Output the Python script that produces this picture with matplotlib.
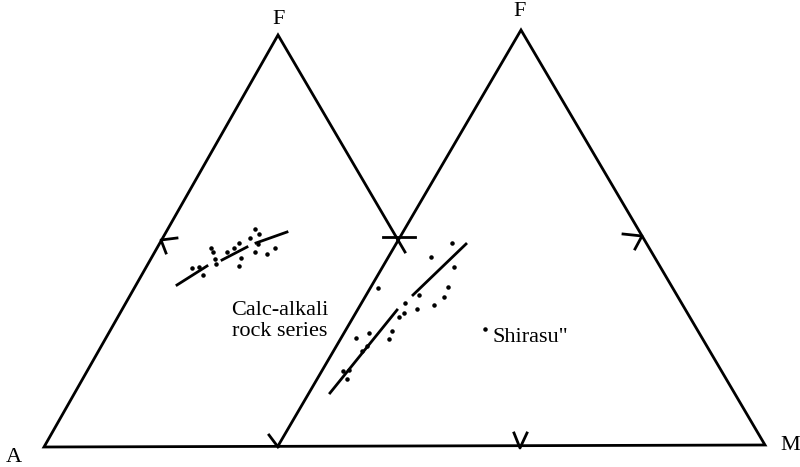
import matplotlib
matplotlib.use("Agg")
import matplotlib.pyplot as plt

plt.rcParams['font.family'] = ['Liberation Serif', 'DejaVu Serif']

# frame of the two triangles (image pixel coords)
left_tri_x = [405, 278, 44, 765, 521, 278]
left_tri_y = [252, 35, 447, 445, 30, 446]

# small tick / arrow marks
marks = [
    ([177, 161, 166], [238, 240, 253]),
    ([623, 642, 635], [234, 236, 249]),
    ([514, 520, 527], [433, 448, 433]),
    ([269, 278], [435, 447]),
    ([383, 415], [237, 237]),
]

# calc-alkali trend, left diagram
afm_x = [192, 199, 203, 211, 213, 215, 216, 227, 234, 239, 241, 239, 250, 255, 259, 258, 255, 267, 275]
afm_y = [268, 267, 275, 248, 252, 259, 264, 252, 248, 243, 258, 266, 238, 229, 234, 244, 252, 254, 248]
afm_lines = [([177, 207], [285, 266]), ([222, 247], [260, 247]), ([256, 287], [243, 232])]

# shirasu trend, right diagram
sh_x = [378, 431, 452, 454, 448, 444, 434, 419, 417, 405, 404, 399, 392, 389, 369, 356, 367, 362, 349, 343, 347]
sh_y = [288, 257, 243, 267, 287, 297, 305, 295, 309, 303, 313, 317, 331, 339, 333, 338, 346, 351, 370, 371, 379]
sh_lines = [([413, 466], [295, 244]), ([330, 397], [393, 310])]

fig = plt.figure(figsize=(8, 4.67), dpi=100)
ax = fig.add_axes([0, 0, 1, 1])
ax.set_xlim(0, 800)
ax.set_ylim(467, 0)
ax.axis('off')

lw = 2.0
ax.plot(left_tri_x, left_tri_y, color='black', lw=lw, solid_joinstyle='miter')
for mx, my in marks:
    ax.plot(mx, my, color='black', lw=lw)
for lx, ly in afm_lines + sh_lines:
    ax.plot(lx, ly, color='black', lw=lw)

ax.scatter(afm_x, afm_y, s=5, color='black')
ax.scatter(sh_x, sh_y, s=5, color='black')
ax.scatter([485], [329], s=5, color='black')

fs = 16
ax.text(279, 20, 'F', fontsize=fs, ha='center', va='center')
ax.text(520, 12, 'F', fontsize=fs, ha='center', va='center')
ax.text(14, 457, 'A', fontsize=fs, ha='center', va='center')
ax.text(790, 445, 'M', fontsize=fs, ha='center', va='center')
ax.text(280, 321, 'Calc-alkali\nrock series', fontsize=fs, ha='center', va='center', linespacing=1.15)
ax.text(492, 337, 'Shirasu"', fontsize=fs, ha='left', va='center')

fig.savefig('out.png', dpi=100)
